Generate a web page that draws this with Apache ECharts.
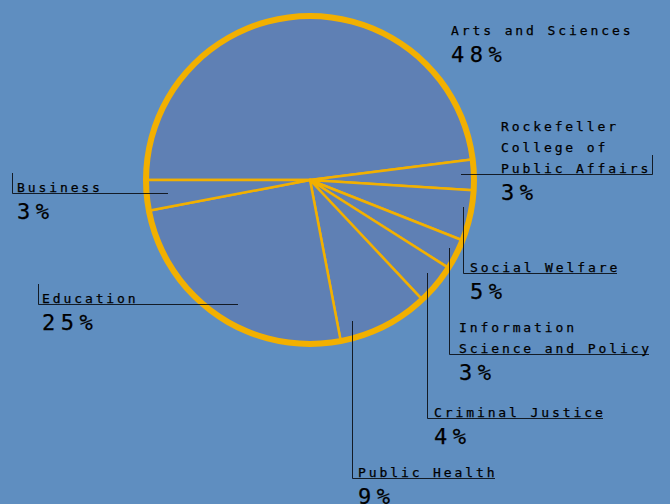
<!DOCTYPE html>
<html><head><meta charset="utf-8">
<script src="https://cdn.jsdelivr.net/npm/echarts@6/dist/echarts.min.js"></script>
<style>
html,body{margin:0;padding:0;background:#5f8ec0;}
#chart{width:670px;height:504px;}
#chart text{letter-spacing:2.9px;stroke:#000;stroke-width:0.25px;}
#chart text[style*="22px"]{letter-spacing:5.5px;}
</style></head><body><div id="chart"></div>
<script>
// Data
const categories = ['Arts and Sciences', 'Rockefeller\nCollege of\nPublic Affairs', 'Social Welfare', 'Information\nScience and Policy', 'Criminal Justice', 'Public Health', 'Education', 'Business'];
const shares = [48, 3, 5, 3, 4, 9, 25, 3];

// Label placement (layout only)
const labelPlacement = [
  { x: 451, y: 20, line: null },
  { x: 501, y: 116, line: [[461, 174.5], [652.5, 174.5], [652.5, 155]] },
  { x: 470, y: 257, line: [[463.5, 207], [463.5, 273.5], [617, 273.5]] },
  { x: 459, y: 317, line: [[449.5, 248], [449.5, 354.5], [649, 354.5]] },
  { x: 434, y: 402, line: [[427.5, 273], [427.5, 418.5], [603, 418.5]] },
  { x: 358, y: 462, line: [[352.5, 321], [352.5, 478.5], [495, 478.5]] },
  { x: 42, y: 288, line: [[38.5, 284], [38.5, 304.5], [238, 304.5]] },
  { x: 17, y: 177, line: [[12.5, 173], [12.5, 193.5], [168, 193.5]] }
];

const chart = echarts.init(document.getElementById('chart'), null, { renderer: 'svg' });
const font = '"DejaVu Sans Mono", monospace';
const sliceData = categories.map((c, i) => ({ name: c, value: shares[i] }));
const labelData = categories.map((c, i) => ({
  name: c,
  value: shares[i],
  labelLine: { show: !!labelPlacement[i].line }
}));
const center = [310, 180];

chart.setOption({
  backgroundColor: '#5f8ec0',
  animation: false,
  series: [
    {
      type: 'pie',
      z: 2,
      center: center,
      radius: 163,
      startAngle: 180,
      clockwise: true,
      silent: true,
      data: sliceData,
      itemStyle: { color: '#5f80b4', borderColor: '#f2b000', borderWidth: 2.5, borderJoin: 'round' },
      label: { show: false },
      labelLine: { show: false }
    },
    {
      type: 'pie',
      z: 3,
      center: center,
      radius: [161, 167],
      silent: true,
      data: [{ value: 1, name: 'ring' }],
      itemStyle: { color: '#f2b000' },
      label: { show: false },
      labelLine: { show: false }
    },
    {
      type: 'pie',
      z: 4,
      center: center,
      radius: 163,
      startAngle: 180,
      clockwise: true,
      silent: true,
      avoidLabelOverlap: false,
      data: labelData,
      itemStyle: { color: 'rgba(0,0,0,0)', borderWidth: 0 },
      label: {
        show: true,
        position: 'outside',
        formatter: p => '{n|' + p.name + '}\n{p|' + Math.round(p.percent) + '%}',
        rich: {
          n: { fontSize: 13, lineHeight: 21, fontFamily: font, color: '#000' },
          p: { fontSize: 22, lineHeight: 26, fontFamily: font, color: '#000' }
        }
      },
      labelLine: { show: true, smooth: false, lineStyle: { color: 'rgba(0,0,0,0.8)', width: 1 } },
      labelLayout: function (params) {
        const L = labelPlacement[params.dataIndex];
        const r = { x: L.x, y: L.y, align: 'left', verticalAlign: 'top' };
        if (L.line) r.labelLinePoints = L.line;
        return r;
      }
    }
  ]
});
</script></body></html>
